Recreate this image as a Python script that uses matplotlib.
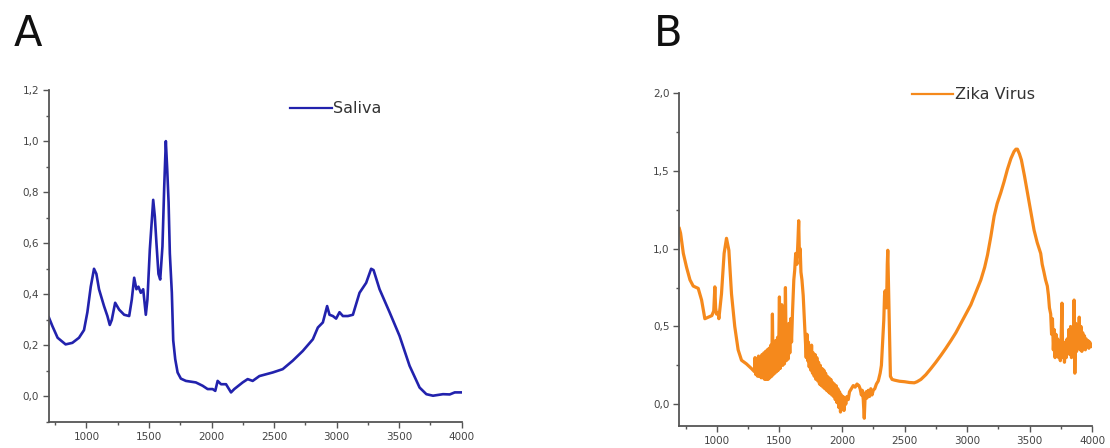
import matplotlib
matplotlib.use('Agg')
import matplotlib.pyplot as plt
from matplotlib.ticker import MultipleLocator, FuncFormatter

# FTIR spectra: wavenumber (cm-1) vs absorbance
wn_saliva = [700, 728, 770, 834, 888, 941, 981, 1008, 1035, 1061, 1080, 1101, 1141,
             1168, 1187, 1203, 1230, 1262, 1302, 1342, 1363, 1382, 1400, 1416, 1435,
             1454, 1475, 1488, 1507, 1523, 1534, 1547, 1560, 1576, 1590, 1608, 1622,
             1635, 1646, 1657, 1667, 1683, 1694, 1710, 1729, 1755, 1795, 1875, 1929,
             1969, 2009, 2030, 2049, 2076, 2116, 2156, 2182, 2249, 2289, 2329, 2383,
             2489, 2569, 2649, 2729, 2810, 2850, 2890, 2924, 2943, 2970, 2996, 3023,
             3050, 3090, 3130, 3183, 3236, 3276, 3295, 3343, 3423, 3503, 3583, 3663,
             3717, 3770, 3850, 3904, 3944, 4000]
abs_saliva = [0.31, 0.276, 0.23, 0.204, 0.21, 0.23, 0.26, 0.33, 0.43, 0.50, 0.48, 0.42,
              0.354, 0.315, 0.28, 0.30, 0.367, 0.34, 0.32, 0.315, 0.38, 0.465, 0.42,
              0.43, 0.406, 0.42, 0.32, 0.38, 0.575, 0.69, 0.77, 0.705, 0.60, 0.48,
              0.458, 0.588, 0.82, 1.0, 0.89, 0.76, 0.56, 0.406, 0.22, 0.146, 0.094,
              0.07, 0.061, 0.055, 0.042, 0.029, 0.029, 0.022, 0.061, 0.048, 0.048,
              0.016, 0.029, 0.055, 0.068, 0.061, 0.08, 0.094, 0.107, 0.14, 0.178,
              0.224, 0.27, 0.29, 0.354, 0.32, 0.315, 0.305, 0.33, 0.315, 0.315, 0.32,
              0.406, 0.445, 0.50, 0.495, 0.42, 0.33, 0.237, 0.12, 0.035, 0.009, 0.003,
              0.009, 0.008, 0.016, 0.016]

wn_zika = [700, 710, 732, 758, 785, 811, 851, 878, 904, 931, 960, 975, 984, 990, 997,
           1010, 1016, 1025, 1037, 1058, 1077, 1096, 1117, 1143, 1170, 1197, 1236, 1276,
           1300, 1305, 1312, 1319, 1326, 1333, 1340, 1347, 1354, 1361, 1368, 1375, 1382,
           1389, 1396, 1403, 1410, 1417, 1424, 1431, 1438, 1444, 1450, 1457, 1464, 1471,
           1478, 1485, 1492, 1500, 1506, 1513, 1519, 1526, 1533, 1540, 1548, 1555, 1562,
           1569, 1576, 1583, 1590, 1597, 1605, 1615, 1622, 1630, 1640, 1648, 1654, 1660,
           1666, 1672, 1680, 1690, 1701, 1708, 1714, 1720, 1726, 1732, 1738, 1744, 1750,
           1757, 1764, 1771, 1778, 1785, 1792, 1799, 1806, 1813, 1820, 1827, 1834, 1841,
           1848, 1855, 1862, 1869, 1876, 1883, 1890, 1897, 1904, 1911, 1918, 1925, 1932,
           1939, 1946, 1953, 1960, 1967, 1974, 1981, 1988, 1995, 2002, 2009, 2016, 2023,
           2030, 2040, 2050, 2060, 2075, 2090, 2105, 2120, 2135, 2145, 2155, 2162, 2170,
           2178, 2185, 2192, 2200, 2210, 2220, 2230, 2240, 2250, 2262, 2275, 2290, 2305,
           2315, 2325, 2334, 2340, 2345, 2350, 2356, 2362, 2366, 2371, 2377, 2382, 2387,
           2400, 2420, 2460, 2500, 2540, 2578, 2600, 2631, 2670, 2711, 2750, 2791, 2830,
           2871, 2910, 2950, 2990, 3030, 3070, 3110, 3140, 3163, 3190, 3216, 3240, 3269,
           3295, 3322, 3350, 3375, 3390, 3402, 3418, 3434, 3458, 3482, 3508, 3535, 3560,
           3588, 3600, 3614, 3627, 3641, 3650, 3658, 3668, 3675, 3682, 3689, 3696, 3703,
           3710, 3717, 3724, 3731, 3738, 3745, 3752, 3758, 3764, 3771, 3778, 3785, 3792,
           3799, 3806, 3813, 3820, 3827, 3834, 3841, 3848, 3855, 3861, 3868, 3875, 3882,
           3889, 3896, 3903, 3910, 3917, 3924, 3931, 3938, 3945, 3952, 3959, 3966, 3973,
           3980, 3990, 4000]
abs_zika = [1.13, 1.10, 0.97, 0.88, 0.80, 0.76, 0.745, 0.67, 0.55, 0.56, 0.57, 0.60, 0.755,
            0.62, 0.58, 0.59, 0.55, 0.62, 0.71, 0.97, 1.067, 0.99, 0.71, 0.50, 0.35, 0.283,
            0.26, 0.23, 0.21, 0.30, 0.19, 0.29, 0.18, 0.31, 0.18, 0.30, 0.17, 0.32, 0.17,
            0.33, 0.16, 0.34, 0.16, 0.35, 0.16, 0.36, 0.17, 0.38, 0.18, 0.58, 0.19, 0.40,
            0.20, 0.41, 0.21, 0.43, 0.22, 0.69, 0.23, 0.45, 0.64, 0.25, 0.47, 0.26, 0.75,
            0.28, 0.50, 0.29, 0.52, 0.33, 0.55, 0.40, 0.60, 0.80, 0.86, 0.97, 0.90, 1.05,
            1.18, 0.95, 1.00, 0.85, 0.80, 0.70, 0.52, 0.42, 0.30, 0.45, 0.28, 0.40, 0.24,
            0.36, 0.22, 0.38, 0.20, 0.33, 0.18, 0.32, 0.16, 0.30, 0.15, 0.27, 0.13, 0.25,
            0.12, 0.23, 0.11, 0.22, 0.10, 0.20, 0.09, 0.18, 0.08, 0.17, 0.07, 0.16, 0.06,
            0.14, 0.05, 0.13, 0.03, 0.12, 0.01, 0.10, -0.02, 0.08, -0.05, 0.06, -0.01, 0.05,
            -0.04, 0.04, 0.00, 0.05, 0.03, 0.08, 0.10, 0.12, 0.11, 0.13, 0.12, 0.10, 0.06,
            0.09, 0.03, -0.09, 0.05, 0.08, 0.04, 0.09, 0.05, 0.10, 0.06, 0.09, 0.10, 0.13,
            0.15, 0.20, 0.25, 0.40, 0.54, 0.70, 0.73, 0.65, 0.62, 0.90, 0.99, 0.80, 0.58,
            0.35, 0.18, 0.16, 0.155, 0.148, 0.145, 0.14, 0.138, 0.145, 0.16, 0.19, 0.23,
            0.27, 0.315, 0.36, 0.41, 0.46, 0.52, 0.58, 0.64, 0.72, 0.80, 0.88, 0.96, 1.08,
            1.21, 1.29, 1.36, 1.43, 1.51, 1.58, 1.625, 1.64, 1.64, 1.61, 1.57, 1.47, 1.36,
            1.24, 1.12, 1.04, 0.97, 0.90, 0.85, 0.80, 0.76, 0.70, 0.62, 0.58, 0.45, 0.55,
            0.35, 0.48, 0.30, 0.45, 0.32, 0.42, 0.30, 0.40, 0.28, 0.45, 0.65, 0.30, 0.40,
            0.27, 0.38, 0.30, 0.42, 0.33, 0.48, 0.32, 0.50, 0.30, 0.48, 0.35, 0.67, 0.20,
            0.52, 0.34, 0.50, 0.36, 0.56, 0.35, 0.50, 0.34, 0.46, 0.36, 0.44, 0.35, 0.42,
            0.37, 0.41, 0.36, 0.40, 0.37, 0.38]

axis_grey = '#555555'
comma = FuncFormatter(lambda v, p: ('%.1f' % v).replace('.', ','))

fig = plt.figure(figsize=(11.1, 4.48), dpi=100)
axA = fig.add_axes([0.044, 0.058, 0.372, 0.741])
axB = fig.add_axes([0.612, 0.049, 0.372, 0.743])

panels = [
    (axA, wn_saliva, abs_saliva, '#2222ad', 1.9, 'Saliva', (-0.1, 1.2), 0.2, 0.1, (0.584, 0.943)),
    (axB, wn_zika, abs_zika, '#f5891c', 2.3, 'Zika Virus', (-0.14, 2.0), 0.5, 0.25, (0.563, 0.995)),
]
for ax, xs, ys, col, lw, name, ylim, ymaj, ymin, leg_pos in panels:
    ax.plot(xs, ys, color=col, lw=lw, label=name)
    ax.set_xlim(700, 4000)
    ax.set_ylim(*ylim)
    ax.xaxis.set_major_locator(MultipleLocator(500))
    ax.xaxis.set_minor_locator(MultipleLocator(250))
    ax.yaxis.set_major_locator(MultipleLocator(ymaj))
    ax.yaxis.set_minor_locator(MultipleLocator(ymin))
    ax.yaxis.set_major_formatter(comma)
    for s in ['top', 'right']:
        ax.spines[s].set_visible(False)
    for s in ['left', 'bottom']:
        ax.spines[s].set_color(axis_grey)
        ax.spines[s].set_linewidth(1.3)
    ax.tick_params(which='major', direction='out', length=4, width=1, color=axis_grey,
                   labelsize=7.5, labelcolor='#444444', pad=3)
    ax.tick_params(which='minor', direction='out', length=2, width=1, color=axis_grey)
    leg = ax.legend(loc='center left', bbox_to_anchor=leg_pos, frameon=False,
                    handlelength=2.6, handletextpad=0.1, borderpad=0, borderaxespad=0,
                    fontsize=11.5, labelcolor='#333333')
    leg.get_lines()[0].set_linewidth(1.6)

fig.text(0.012, 0.972, 'A', fontsize=30, va='top', ha='left', color='#111111')
fig.text(0.589, 0.972, 'B', fontsize=30, va='top', ha='left', color='#111111')

fig.savefig('out.png', dpi=100)
